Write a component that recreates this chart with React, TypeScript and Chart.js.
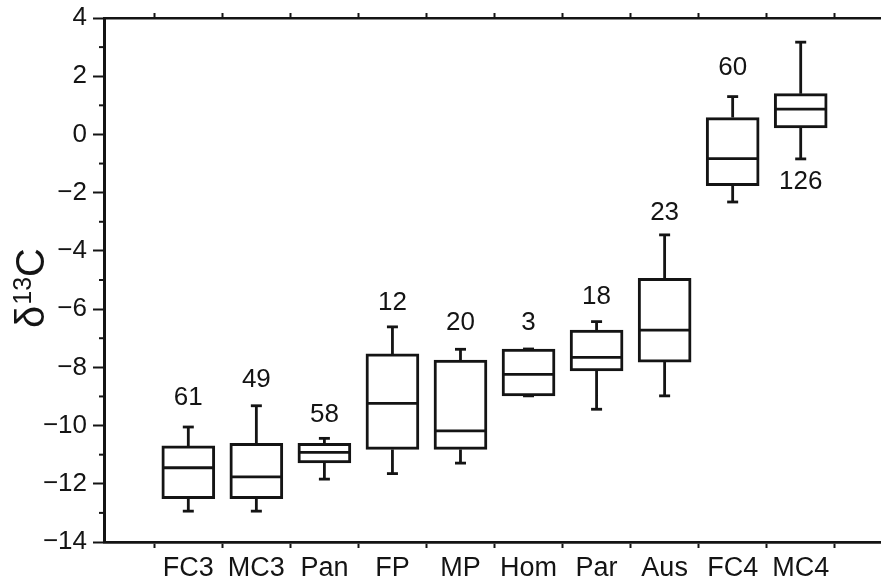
import React, { useEffect, useRef } from 'react';
import { Chart, registerables } from 'chart.js';

Chart.register(...registerables);

const categories = ['FC3', 'MC3', 'Pan', 'FP', 'MP', 'Hom', 'Par', 'Aus', 'FC4', 'MC4'];
const whiskerLow = [-12.94, -12.94, -11.84, -11.65, -11.29, -8.98, -9.44, -8.98, -2.32, -0.84];
const q1 = [-12.51, -12.51, -11.28, -10.82, -10.82, -8.98, -8.12, -7.82, -1.76, 0.22];
const median = [-11.45, -11.76, -10.92, -9.24, -10.18, -8.24, -7.66, -6.72, -0.83, 0.87];
const q3 = [-10.7, -10.61, -10.61, -7.54, -7.75, -7.37, -6.72, -4.94, 0.58, 1.4];
const whiskerHigh = [-10.05, -9.32, -10.44, -6.61, -7.38, -7.37, -6.43, -3.45, 1.3, 3.17];
const counts = ['61', '49', '58', '12', '20', '3', '18', '23', '60', '126'];
const countY = [-9.06, -8.44, -9.64, -5.79, -6.48, -6.48, -5.58, -2.69, 2.29, -1.62];
const yMin = -14;
const yMax = 4;
const minorTicks = [-13, -11, -9, -7, -5, -3, -1, 1, 3];

const FONT = "'Liberation Sans', Arial, Helvetica, sans-serif";
const INK = '#141414';

export default function App() {
  const ref = useRef<HTMLCanvasElement>(null);

  useEffect(() => {
    document.body.style.margin = '0';
    document.body.style.overflow = 'hidden';
    const xs = categories.map((_, i) => i + 1);
    const xMin = -0.239;
    const xMax = 11.18;

    const whiskerData: any[] = [];
    xs.forEach((x, i) => {
      whiskerData.push({ x, y: q3[i] }, { x, y: whiskerHigh[i] }, { x, y: null });
      whiskerData.push({ x, y: q1[i] }, { x, y: whiskerLow[i] }, { x, y: null });
    });
    const caps: any[] = [];
    xs.forEach((x, i) => {
      caps.push({ x, y: whiskerHigh[i] }, { x, y: whiskerLow[i] });
    });

    const noPad = (s: any) => {
      s.paddingTop = 0;
      s.paddingBottom = 0;
      s.paddingLeft = 0;
      s.paddingRight = 0;
    };

    const annot = {
      id: 'annot',
      afterDraw(chart: any) {
        const ctx = chart.ctx;
        const sx = chart.scales.x;
        const sy = chart.scales.y;
        const area = chart.chartArea;
        ctx.save();
        ctx.strokeStyle = INK;
        ctx.lineWidth = 2;
        minorTicks.forEach((v) => {
          const py = sy.getPixelForValue(v);
          ctx.beginPath();
          ctx.moveTo(area.left - 5, py);
          ctx.lineTo(area.left, py);
          ctx.stroke();
        });
        ctx.fillStyle = INK;
        ctx.font = `26px ${FONT}`;
        ctx.textAlign = 'center';
        ctx.textBaseline = 'middle';
        counts.forEach((c, i) => {
          ctx.fillText(c, sx.getPixelForValue(xs[i]), sy.getPixelForValue(countY[i]));
        });
        ctx.translate(30, 290);
        ctx.rotate(-Math.PI / 2);
        ctx.textAlign = 'left';
        ctx.textBaseline = 'alphabetic';
        let x = -38;
        ctx.font = `40px ${FONT}`;
        ctx.fillText('δ', x, 14);
        x += ctx.measureText('δ').width + 1;
        ctx.font = `25px ${FONT}`;
        ctx.fillText('13', x, 1);
        x += ctx.measureText('13').width;
        ctx.font = `40px ${FONT}`;
        ctx.fillText('C', x, 14);
        ctx.restore();
      },
    };

    const chart = new Chart(ref.current as HTMLCanvasElement, {
      type: 'bar',
      data: {
        datasets: [
          {
            type: 'line',
            data: whiskerData,
            borderColor: INK,
            borderWidth: 2.8,
            pointRadius: 0,
            spanGaps: false,
            clip: false,
            order: 3,
          } as any,
          {
            type: 'bar',
            data: xs.map((x, i) => ({ x, y: [q1[i], q3[i]] })),
            backgroundColor: '#ffffff',
            borderColor: INK,
            borderWidth: 3,
            borderSkipped: false,
            barThickness: 53,
            order: 2,
          } as any,
          {
            type: 'line',
            data: caps,
            showLine: false,
            pointStyle: 'line',
            pointRadius: 5.5,
            pointBorderColor: INK,
            pointBorderWidth: 2.8,
            clip: false,
            order: 1,
          } as any,
          {
            type: 'line',
            data: xs.map((x, i) => ({ x, y: median[i] })),
            showLine: false,
            pointStyle: 'line',
            pointRadius: 25.5,
            pointBorderColor: INK,
            pointBorderWidth: 2.8,
            clip: false,
            order: 0,
          } as any,
        ],
      },
      options: {
        responsive: false,
        animation: false,
        events: [],
        layout: { padding: 0, autoPadding: false },
        plugins: { legend: { display: false }, tooltip: { enabled: false } },
        scales: {
          x: {
            type: 'linear',
            position: 'bottom',
            min: xMin,
            max: xMax,
            offset: false,
            grid: { drawOnChartArea: false, drawTicks: true, tickLength: 6, tickWidth: 2, tickColor: INK },
            border: { display: true, color: INK, width: 2.8 },
            ticks: {
              font: { family: FONT, size: 27 },
              color: INK,
              padding: 4,
              autoSkip: false,
              maxRotation: 0,
              callback: (v: any) => categories[Number(v) - 1] ?? '',
            },
            afterBuildTicks: (s: any) => {
              s.ticks = xs.map((v) => ({ value: v }));
            },
            afterFit: (s: any) => {
              s.height = 44;
              noPad(s);
            },
          },
          xTop: {
            type: 'linear',
            position: 'top',
            min: xMin,
            max: xMax,
            offset: false,
            grid: { drawOnChartArea: false, drawTicks: true, tickLength: 5, tickWidth: 2, tickColor: INK },
            border: { display: true, color: INK, width: 2.5 },
            ticks: { display: false },
            afterBuildTicks: (s: any) => {
              s.ticks = xs.map((v) => ({ value: v }));
            },
            afterFit: (s: any) => {
              s.height = 18;
              noPad(s);
            },
          },
          y: {
            type: 'linear',
            min: yMin,
            max: yMax,
            grid: { drawOnChartArea: false, drawTicks: true, tickLength: 11, tickWidth: 2, tickColor: INK },
            border: { display: true, color: INK, width: 3 },
            ticks: {
              stepSize: 2,
              font: { family: FONT, size: 26 },
              color: INK,
              padding: 6,
              callback: (v: any) => (Number(v) < 0 ? '\u2212' + Math.abs(Number(v)) : String(v)),
            },
            afterFit: (s: any) => {
              s.width = 104;
              noPad(s);
            },
          },
        },
      } as any,
      plugins: [annot],
    });

    return () => chart.destroy();
  }, []);

  return (
    <div style={{ position: 'fixed', left: 0, top: 0, width: 881, height: 586, background: '#fff' }}>
      <canvas ref={ref} width={881} height={586} style={{ display: 'block', width: 881, height: 586 }} />
    </div>
  );
}
